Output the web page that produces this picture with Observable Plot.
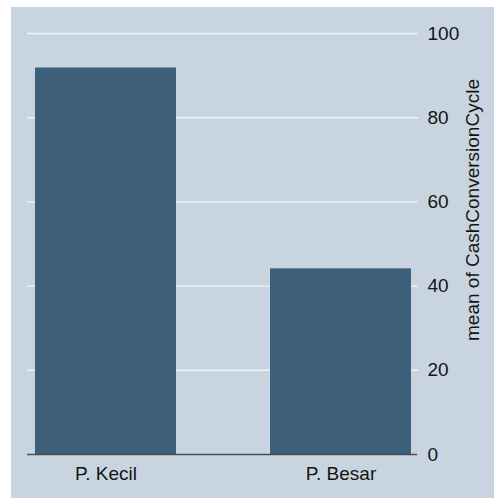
<!DOCTYPE html>
<html>
<head>
<meta charset="utf-8">
<script src="https://cdn.jsdelivr.net/npm/d3@7"></script>
<script src="https://cdn.jsdelivr.net/npm/@observablehq/plot@0.6"></script>
<style>
  html, body { margin: 0; padding: 0; background: #ffffff; }
  #wrap { padding: 7px 0 0 11px; width: 483px; height: 491px; }
  #wrap svg { display: block; }
</style>
</head>
<body>
<div id="wrap"></div>
<script>
const categories = ["P. Kecil", "P. Besar"];
const means = [91.8, 44.1];
const yTicks = [0, 20, 40, 60, 80, 100];
const yTitle = "mean of CashConversionCycle";

const data = categories.map((c, i) => ({category: c, mean: means[i]}));

const chart = Plot.plot({
  width: 483,
  height: 491,
  marginLeft: 24,
  marginRight: 83,
  marginTop: 26,
  marginBottom: 44,
  style: {
    background: "#c8d5e0",
    fontFamily: "'Liberation Sans', Arial, Helvetica, sans-serif",
    fontSize: "19px",
    color: "#141414"
  },
  x: {domain: categories, paddingInner: 0.4, paddingOuter: 0, label: null},
  y: {domain: [0, 100], label: null},
  marks: [
    Plot.ruleY(yTicks.filter(d => d > 0), {stroke: "#eef4f7", strokeWidth: 1.4, insetLeft: -8, insetRight: -7}),
    Plot.barY(data, {x: "category", y: "mean", fill: "#3e5f79"}),
    Plot.ruleY([0], {stroke: "#4a4f57", strokeWidth: 1.6, insetLeft: -8, insetRight: -6}),
    Plot.axisY({anchor: "right", ticks: yTicks, tickSize: 0, tickPadding: 16, label: null, fontSize: 19}),
    Plot.axisX({anchor: "bottom", tickSize: 0, tickPadding: 12, label: null, fontSize: 19}),
    Plot.text([yTitle], {
      frameAnchor: "right", textAnchor: "middle", lineAnchor: "middle",
      rotate: -90, dx: 61, dy: -34, fontSize: 19, fill: "#141414"
    })
  ]
});

document.getElementById("wrap").appendChild(chart);
</script>
</body>
</html>
